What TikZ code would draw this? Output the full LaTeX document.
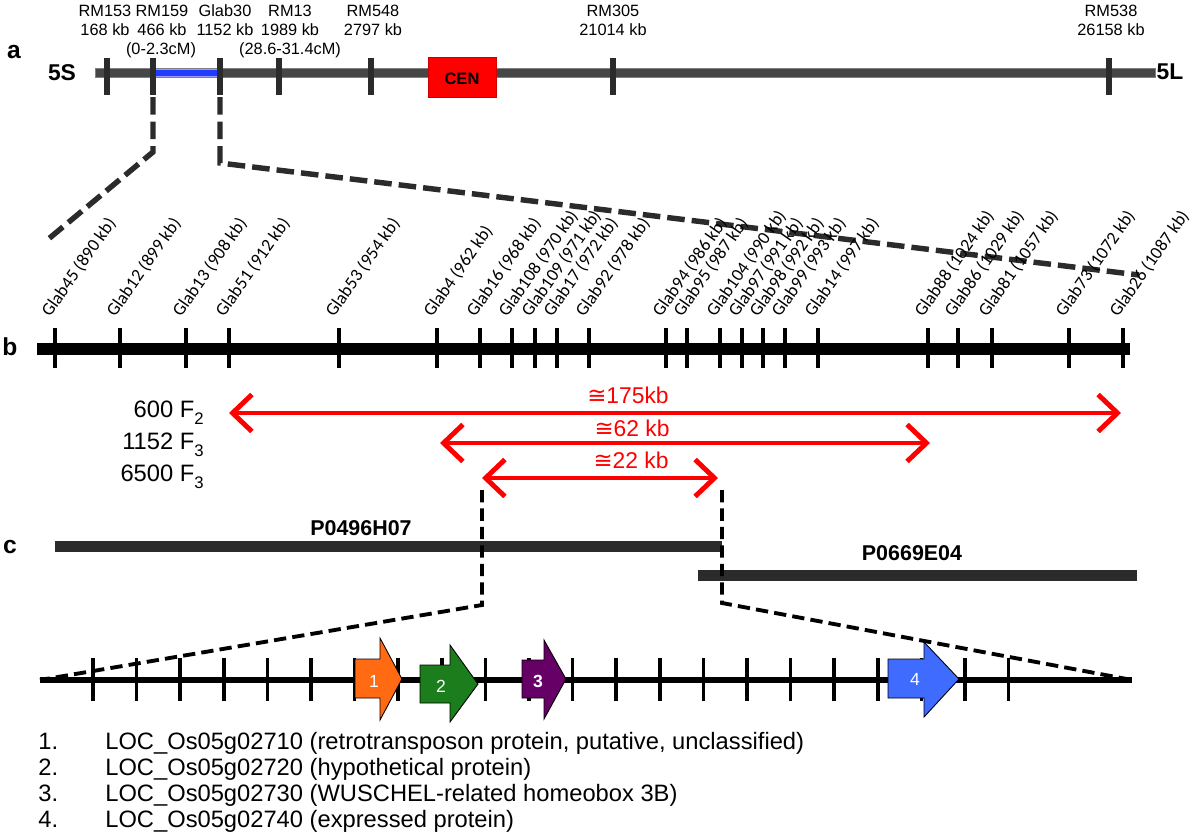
\documentclass[tikz,border=0pt]{standalone}
\usepackage{fontspec}
\setmainfont{Liberation Sans}
\newfontfamily\glabfont{Carlito}
\newfontfamily\symfont{DejaVu Sans}
\usetikzlibrary{arrows.meta,positioning}

\definecolor{chrgray}{HTML}{464646}
\definecolor{tickgray}{HTML}{2B2B2B}
\definecolor{intblue}{HTML}{1F3CFF}
\definecolor{geneorange}{HTML}{FF6A13}
\definecolor{genegreen}{HTML}{1C7D1C}
\definecolor{genepurple}{HTML}{660066}
\definecolor{geneblue}{HTML}{3F6BFF}

\tikzset{
  panel/.style={font=\bfseries\fontsize{14}{16}\selectfont, inner sep=0pt},
  armlabel/.style={font=\bfseries\fontsize{13}{15}\selectfont, inner sep=0pt},
  mlabel/.style={font=\fontsize{9.3}{11}\selectfont, inner sep=0pt},
  glab/.style={font=\glabfont\fontsize{10.2}{12}\selectfont, rotate=55, anchor=base west, inner sep=0pt},
  zoomline/.style={line width=3.1pt, tickgray, dash pattern=on 10pt off 4pt},
  cline/.style={line width=2.2pt, black, dash pattern=on 7pt off 3.5pt},
  popline/.style={line width=2.8pt, red, {Straight Barb[length=11pt,width=21pt]}-{Straight Barb[length=11pt,width=21pt]}},
  poplabel/.style={font=\fontsize{13}{15}\selectfont, red, inner sep=0pt},
  genebox/.style={draw=black, line width=0.5pt},
  genenum/.style={font=\fontsize{10}{12}\selectfont, white, inner sep=0pt},
  legend/.style={font=\fontsize{13.5}{15}\selectfont, anchor=base west, inner sep=0pt}
}

\newcommand{\approxsym}{{\symfont ≅}}
\newcommand{\lowsub}[1]{\raisebox{-0.55ex}{\fontsize{9.5}{9.5}\selectfont #1}}

\begin{document}
\begin{tikzpicture}[x=0.02cm, y=-0.02cm]
    \useasboundingbox (0,0) rectangle (1200,839);

    % ---------------- a: chromosome 5 ----------------
    \node[panel] (pa) at (14,52) {a};
    \node[armlabel] (arm5s) at (62,73) {5S};
    \node[armlabel] (arm5l) at (1170,72) {5L};

    \filldraw[fill=chrgray, draw=gray, line width=0.4pt] (95,68.5) rectangle (1155,77.5);
    \filldraw[fill=intblue, draw=blue!40, line width=0.6pt] (155,69.5) rectangle (219,76.5);
    \filldraw[fill=red, draw=red!80!black, line width=0.3pt] (428,57) rectangle (496,97);
    \node[font=\bfseries\fontsize{9.4}{11}\selectfont, inner sep=0pt] (cen) at (462,79) {CEN};

    % Marker ticks and labels
    \foreach \x/\lx/\name/\pos in {107/105/RM153/168 kb, 153/162/RM159/466 kb, 220/225/Glab30/1152 kb,
                                   279/290/RM13/1989 kb, 371/373/RM548/2797 kb, 613/613/RM305/21014 kb,
                                   1109/1111/RM538/26158 kb}{
        \draw[line width=3.4pt, tickgray] (\x,58) -- (\x,95);
        \node[mlabel] (n\name) at (\lx,11) {\name};
        \node[mlabel] (p\name) at (\lx,30) {\pos};
    }
    \node[mlabel] (cm1) at (161,50) {(0-2.3cM)};
    \node[mlabel] (cm2) at (290,50) {(28.6-31.4cM)};

    % Zoom into the interval
    \coordinate (zl1) at (153,97);
    \coordinate (zl2) at (153,152);
    \coordinate (zl3) at (46,241);
    \coordinate (zr1) at (220,97);
    \coordinate (zr2) at (220,163);
    \coordinate (zr3) at (1139,275);
    \draw[zoomline] (zl1) -- (zl2) -- (zl3);
    \draw[zoomline] (zr1) -- (zr2) -- (zr3);

    % ---------------- b: fine map ----------------
    \node[panel] (pb) at (10,347) {b};
    \draw[line width=6.8pt, black] (37,349) -- (1130,349);

    \foreach \x/\name in {55/{Glab45 (890 kb)}, 120/{Glab12 (899 kb)}, 186/{Glab13 (908 kb)},
                          229/{Glab51 (912 kb)}, 339/{Glab53 (954 kb)}, 437/{Glab4 (962 kb)},
                          480/{Glab16 (968 kb)}, 512/{Glab108 (970 kb)}, 535/{Glab109 (971 kb)},
                          557/{Glab17 (972 kb)}, 589/{Glab92 (978 kb)}, 666/{Glab94 (986 kb)},
                          687/{Glab95 (987 kb)}, 720/{Glab104 (990 kb)}, 742/{Glab97 (991 kb)},
                          763/{Glab98 (992 kb)}, 785/{Glab99 (993 kb)}, 818/{Glab14 (997 kb)},
                          928/{Glab88 (1024 kb)}, 958/{Glab86 (1029 kb)}, 992/{Glab81 (1057 kb)},
                          1069/{Glab73 (1072 kb)}, 1123/{Glab26 (1087 kb)}}{
        \draw[line width=2.8pt, black] (\x,328) -- (\x,368);
        \node[glab] (g\x) at (\x-5,318) {\name};
    }

    % Mapping populations
    \node[font=\fontsize{13.5}{15}\selectfont, anchor=east, inner sep=0pt] (pop1) at (204,413) {600 F\lowsub{2}};
    \node[font=\fontsize{13.5}{15}\selectfont, anchor=east, inner sep=0pt] (pop2) at (204,445) {1152 F\lowsub{3}};
    \node[font=\fontsize{13.5}{15}\selectfont, anchor=east, inner sep=0pt] (pop3) at (204,477) {6500 F\lowsub{3}};

    \coordinate (r1l) at (229,413);
    \coordinate (r1r) at (1121,413);
    \coordinate (r2l) at (440,443);
    \coordinate (r2r) at (930,443);
    \coordinate (r3l) at (482,478);
    \coordinate (r3r) at (718,478);
    \draw[popline] (r1l) -- (r1r);
    \draw[popline] (r2l) -- (r2r);
    \draw[popline] (r3l) -- (r3r);
    \node[poplabel] (d1) at (628,395) {\approxsym175kb};
    \node[poplabel] (d2) at (632,428) {\approxsym62 kb};
    \node[poplabel] (d3) at (631,460) {\approxsym22 kb};

    % ---------------- c: BAC clones and genes ----------------
    \node[panel] (pc) at (10,547) {c};
    \fill[tickgray] (55,541) rectangle (722,552);
    \fill[tickgray] (698,570) rectangle (1137,581);
    \node[font=\bfseries\fontsize{12.2}{14}\selectfont, inner sep=0pt] (bac1) at (361,528) {P0496H07};
    \node[font=\bfseries\fontsize{12.2}{14}\selectfont, inner sep=0pt] (bac2) at (912,553) {P0669E04};

    \coordinate (cl1) at (482,490);
    \coordinate (cl2) at (482,605);
    \coordinate (cl3) at (40,680);
    \coordinate (cr1) at (722,490);
    \coordinate (cr2) at (722,603);
    \coordinate (cr3) at (1132,680);
    \draw[cline] (cl1) -- (cl2) -- (cl3);
    \draw[cline] (cr1) -- (cr2) -- (cr3);

    % Gene region
    \draw[line width=3.4pt, black] (40,680) -- (1132,680);
    \foreach \i in {0,...,21}
        \draw[line width=2pt, black] (93+43.6*\i,658) -- (93+43.6*\i,701);

    % Predicted genes
    \filldraw[genebox, fill=geneorange] (355,659) -- (380,659) -- (380,638) -- (402,679) -- (380,720) -- (380,698) -- (355,698) -- cycle;
    \filldraw[genebox, fill=genegreen] (420,665) -- (450,665) -- (450,645) -- (478,684) -- (450,722) -- (450,703) -- (420,703) -- cycle;
    \filldraw[genebox, fill=genepurple] (522,660) -- (544,660) -- (544,640) -- (566,679) -- (544,719) -- (544,698) -- (522,698) -- cycle;
    \filldraw[genebox, fill=geneblue] (888,659) -- (924,659) -- (924,642) -- (959,679) -- (924,717) -- (924,698) -- (888,698) -- cycle;
    \node[genenum] (gn1) at (374,681) {1};
    \node[genenum] (gn2) at (441,686) {2};
    \node[genenum, font=\bfseries\fontsize{10}{12}\selectfont] (gn3) at (538,681) {3};
    \node[genenum] (gn4) at (915,679) {4};

    % Gene list
    \foreach \i/\y/\txt in {1/749/{LOC\_Os05g02710 (retrotransposon protein, putative, unclassified)},
                            2/775/{LOC\_Os05g02720 (hypothetical protein)},
                            3/801/{LOC\_Os05g02730 (WUSCHEL-related homeobox 3B)},
                            4/827/{LOC\_Os05g02740 (expressed protein)}}{
        \node[legend] (ln\i) at (38,\y) {\i.};
        \node[legend] (lt\i) at (105,\y) {\txt};
    }
\end{tikzpicture}
\end{document}
